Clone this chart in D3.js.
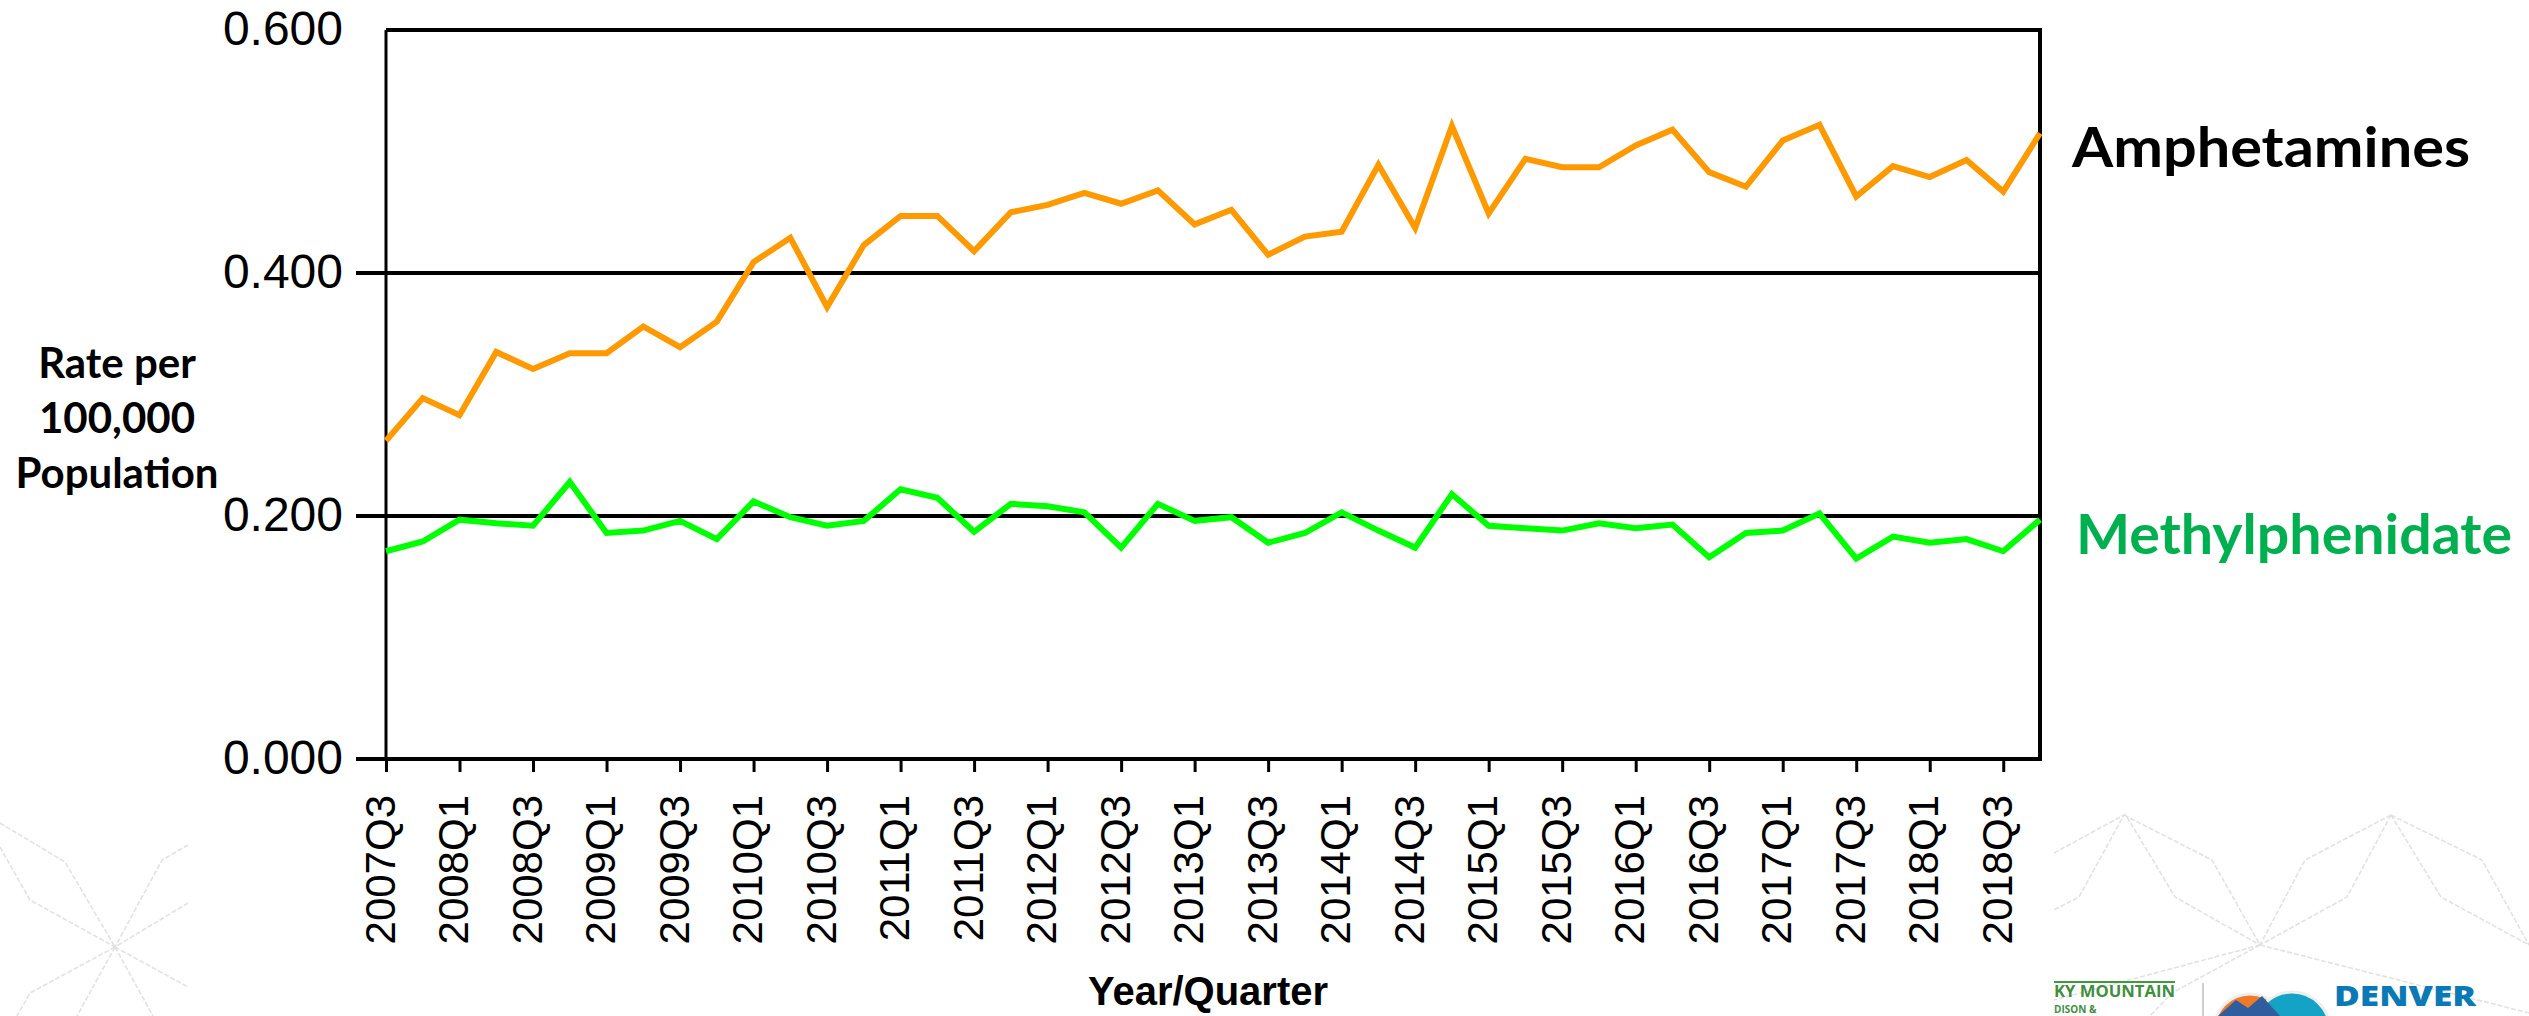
<!DOCTYPE html>
<html>
<head>
<meta charset="utf-8">
<script src="https://cdn.jsdelivr.net/npm/d3@7"></script>
<style>
  html, body { margin: 0; padding: 0; background: #fff; }
  svg { display: block; }
</style>
</head>
<body>
<svg id="chart" width="2529" height="1016"></svg>
<script>
// Quarters on the x axis (one point per quarter)
const quarters = [
  "2007Q3", "2007Q4",
  "2008Q1", "2008Q2", "2008Q3", "2008Q4",
  "2009Q1", "2009Q2", "2009Q3", "2009Q4",
  "2010Q1", "2010Q2", "2010Q3", "2010Q4",
  "2011Q1", "2011Q2", "2011Q3", "2011Q4",
  "2012Q1", "2012Q2", "2012Q3", "2012Q4",
  "2013Q1", "2013Q2", "2013Q3", "2013Q4",
  "2014Q1", "2014Q2", "2014Q3", "2014Q4",
  "2015Q1", "2015Q2", "2015Q3", "2015Q4",
  "2016Q1", "2016Q2", "2016Q3", "2016Q4",
  "2017Q1", "2017Q2", "2017Q3", "2017Q4",
  "2018Q1", "2018Q2", "2018Q3", "2018Q4"
];

// Labelled quarters (every second one)
const tickLabels = [
  "2007Q3", "2008Q1", "2008Q3", "2009Q1", "2009Q3", "2010Q1", "2010Q3",
  "2011Q1", "2011Q3", "2012Q1", "2012Q3", "2013Q1", "2013Q3", "2014Q1",
  "2014Q3", "2015Q1", "2015Q3", "2016Q1", "2016Q3", "2017Q1", "2017Q3",
  "2018Q1", "2018Q3"
];

// Rate per 100,000 population
const amphetamines = [
  0.262, 0.297, 0.283, 0.335, 0.321, 0.334, 0.334, 0.356, 0.339, 0.360,
  0.409, 0.429, 0.372, 0.423, 0.447, 0.447, 0.418, 0.450, 0.456, 0.466,
  0.457, 0.468, 0.440, 0.452, 0.415, 0.430, 0.434, 0.489, 0.437, 0.521,
  0.449, 0.494, 0.487, 0.487, 0.505, 0.518, 0.483, 0.471, 0.509, 0.522,
  0.463, 0.488, 0.479, 0.493, 0.467, 0.515
];

const methylphenidate = [
  0.171, 0.179, 0.197, 0.194, 0.192, 0.228, 0.186, 0.188, 0.196, 0.181,
  0.212, 0.199, 0.192, 0.196, 0.222, 0.215, 0.187, 0.210, 0.208, 0.203,
  0.174, 0.210, 0.196, 0.199, 0.178, 0.186, 0.203, 0.188, 0.174, 0.218,
  0.192, 0.190, 0.188, 0.194, 0.190, 0.193, 0.166, 0.186, 0.188, 0.202,
  0.165, 0.183, 0.178, 0.181, 0.171, 0.197
];

const yTicks = [0, 0.2, 0.4, 0.6];

// Plot frame
const plotLeft = 386, plotRight = 2040, plotTop = 30, plotBottom = 759;

const svg = d3.select("#chart");

// Faint background ornaments (slide template)
const deco = svg.append("g")
  .attr("fill", "none")
  .attr("stroke", "#e2e2e2")
  .attr("stroke-width", 1.6)
  .attr("stroke-dasharray", "5 2");

const decoPaths = [
  // bottom-left star
  [[0, 823], [65, 862], [115, 947]],
  [[0, 847], [30, 900], [115, 947]],
  [[188, 845], [162, 860], [115, 947]],
  [[188, 903], [115, 947]],
  [[115, 947], [30, 993], [17, 1016]],
  [[115, 947], [77, 1016]],
  [[115, 947], [153, 1016]],
  [[115, 947], [188, 987]],
  // bottom-right stars
  [[2054, 853], [2124, 815], [2079, 897], [2054, 910]],
  [[2124, 815], [2212, 860], [2260, 945]],
  [[2127, 817], [2175, 897], [2260, 945]],
  [[2391, 815], [2305, 860], [2260, 945]],
  [[2391, 815], [2347, 897], [2260, 945]],
  [[2391, 815], [2482, 860], [2529, 945]],
  [[2391, 815], [2441, 897], [2529, 945]],
  [[2260, 945], [2172, 993], [2150, 1016]],
  [[2260, 945], [2529, 1013]],
  [[2260, 945], [2054, 1000]]
];

deco.selectAll("path")
  .data(decoPaths)
  .join("path")
  .attr("d", d3.line());

// White chart picture covers the ornaments
svg.append("rect")
  .attr("x", 188)
  .attr("y", 0)
  .attr("width", 2054 - 188)
  .attr("height", 1016)
  .attr("fill", "#fff");

// Scales
const x = d3.scalePoint()
  .domain(quarters)
  .range([plotLeft, plotRight]);

const y = d3.scaleLinear()
  .domain([0, 0.6])
  .range([plotBottom, plotTop]);

// Horizontal grid lines (with the short tick on the left)
svg.append("g")
  .selectAll("line")
  .data(yTicks.filter(d => d > 0 && d < 0.6))
  .join("line")
  .attr("x1", plotLeft - 30)
  .attr("x2", plotRight)
  .attr("y1", d => y(d))
  .attr("y2", d => y(d))
  .attr("stroke", "#000")
  .attr("stroke-width", 4);

// Y axis labels
const yAxis = svg.append("g")
  .attr("transform", `translate(${plotLeft},0)`)
  .call(d3.axisLeft(y)
    .tickValues(yTicks)
    .tickFormat(d3.format(".3f"))
    .tickSize(0)
    .tickPadding(43));

yAxis.select(".domain").remove();
yAxis.selectAll("text")
  .attr("font-family", "'Liberation Sans', Arial, sans-serif")
  .attr("font-size", 48)
  .attr("fill", "#000")
  .attr("dy", "0.31em");

// X axis with ticks every second quarter
const xAxis = svg.append("g")
  .attr("transform", `translate(0,${plotBottom})`)
  .call(d3.axisBottom(x)
    .tickValues(tickLabels)
    .tickSize(13)
    .tickSizeOuter(0));

xAxis.select(".domain")
  .attr("d", `M${plotLeft - 30},0H${plotRight}`)
  .attr("stroke", "#000")
  .attr("stroke-width", 4);

xAxis.selectAll(".tick line")
  .attr("stroke", "#000")
  .attr("stroke-width", 3);

xAxis.selectAll(".tick text")
  .attr("font-family", "'Liberation Sans', Arial, sans-serif")
  .attr("font-size", 42)
  .attr("fill", "#000")
  .attr("text-anchor", "end")
  .attr("transform", "translate(0,36) rotate(-90)")
  .attr("x", 0)
  .attr("y", 0)
  .attr("dy", 8);

// Frame: left, top and right
svg.append("line")
  .attr("x1", plotLeft).attr("x2", plotLeft)
  .attr("y1", plotTop).attr("y2", plotBottom)
  .attr("stroke", "#000")
  .attr("stroke-width", 3);

svg.append("line")
  .attr("x1", plotLeft).attr("x2", plotRight + 2)
  .attr("y1", plotTop).attr("y2", plotTop)
  .attr("stroke", "#000")
  .attr("stroke-width", 4);

svg.append("line")
  .attr("x1", plotRight).attr("x2", plotRight)
  .attr("y1", plotTop).attr("y2", plotBottom + 2)
  .attr("stroke", "#000")
  .attr("stroke-width", 4);

// Lines
const line = d3.line()
  .x((d, i) => x(quarters[i]))
  .y(d => y(d));

svg.append("path")
  .datum(amphetamines)
  .attr("d", line)
  .attr("fill", "none")
  .attr("stroke", "#ff9900")
  .attr("stroke-width", 6);

svg.append("path")
  .datum(methylphenidate)
  .attr("d", line)
  .attr("fill", "none")
  .attr("stroke", "#00ff00")
  .attr("stroke-width", 6);

// Axis titles
const yTitle = svg.append("text")
  .attr("font-family", "Lato, 'Open Sans', sans-serif")
  .attr("font-weight", "bold")
  .attr("font-size", 42)
  .attr("fill", "#000")
  .attr("text-anchor", "middle");

["Rate per", "100,000", "Population"].forEach((t, i) => {
  yTitle.append("tspan")
    .attr("x", 117)
    .attr("y", 378 + i * 55)
    .text(t);
});

svg.append("text")
  .attr("x", 1208)
  .attr("y", 1005)
  .attr("font-family", "'Liberation Sans', Arial, sans-serif")
  .attr("font-weight", "bold")
  .attr("font-size", 40)
  .attr("fill", "#000")
  .attr("text-anchor", "middle")
  .text("Year/Quarter");

// Series names on the right
svg.append("text")
  .attr("x", 2072)
  .attr("y", 167)
  .attr("font-family", "Lato, 'Open Sans', sans-serif")
  .attr("font-weight", "bold")
  .attr("font-size", 56)
  .attr("fill", "#000")
  .attr("textLength", 398)
  .attr("lengthAdjust", "spacingAndGlyphs")
  .text("Amphetamines");

svg.append("text")
  .attr("x", 2076)
  .attr("y", 554)
  .attr("font-family", "Lato, 'Open Sans', sans-serif")
  .attr("font-weight", "bold")
  .attr("font-size", 56)
  .attr("fill", "#00b050")
  .attr("textLength", 436)
  .attr("lengthAdjust", "spacingAndGlyphs")
  .text("Methylphenidate");

// Logos at the bottom right
const logos = svg.append("g");

logos.append("line")
  .attr("x1", 2054).attr("x2", 2175)
  .attr("y1", 982).attr("y2", 982)
  .attr("stroke", "#3f9a3f")
  .attr("stroke-width", 2);

logos.append("text")
  .attr("x", 2054)
  .attr("y", 997)
  .attr("font-family", "'Open Sans', sans-serif")
  .attr("font-weight", "bold")
  .attr("font-size", 16)
  .attr("fill", "#3f8f3f")
  .attr("textLength", 121)
  .attr("lengthAdjust", "spacingAndGlyphs")
  .text("KY MOUNTAIN");

logos.append("text")
  .attr("x", 2054)
  .attr("y", 1013)
  .attr("font-family", "'Open Sans', sans-serif")
  .attr("font-weight", "bold")
  .attr("font-size", 10)
  .attr("fill", "#3f8f3f")
  .text("DISON &");

logos.append("line")
  .attr("x1", 2203).attr("x2", 2203)
  .attr("y1", 983).attr("y2", 1016)
  .attr("stroke", "#cfcfcf")
  .attr("stroke-width", 2);

logos.append("circle")
  .attr("cx", 2250).attr("cy", 1030).attr("r", 36)
  .attr("fill", "#f07a2a")
  .attr("stroke", "#eeeeee")
  .attr("stroke-width", 3);

logos.append("circle")
  .attr("cx", 2292).attr("cy", 1030).attr("r", 38)
  .attr("fill", "#14a3c7")
  .attr("stroke", "#eeeeee")
  .attr("stroke-width", 3);

logos.append("path")
  .attr("d", "M2218,1016 L2236,1000 L2248,1008 L2262,996 L2280,1016 Z")
  .attr("fill", "#2f5d9e");

logos.append("text")
  .attr("x", 2334)
  .attr("y", 1006)
  .attr("font-family", "'Open Sans', sans-serif")
  .attr("font-weight", "800")
  .attr("font-size", 28)
  .attr("fill", "#0a79b5")
  .attr("textLength", 142)
  .attr("lengthAdjust", "spacingAndGlyphs")
  .text("DENVER");
</script>
</body>
</html>
